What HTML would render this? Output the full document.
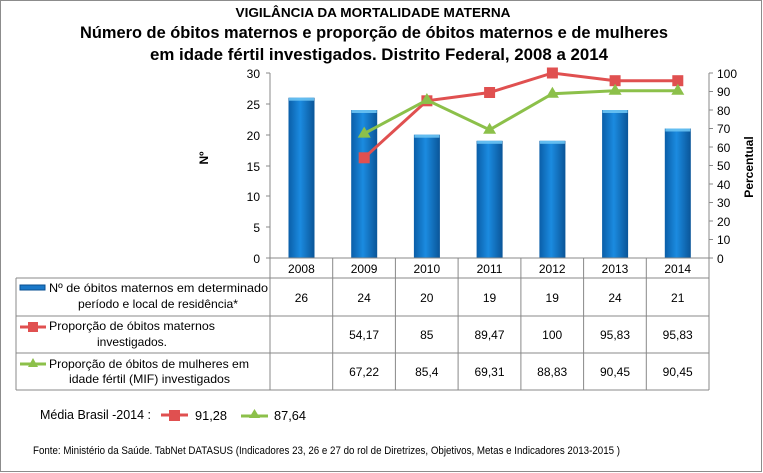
<!DOCTYPE html>
<html><head><meta charset="utf-8"><style>body{margin:0;background:#fff}svg{display:block}text{font-family:"Liberation Sans",sans-serif}</style></head><body>
<svg width="763" height="473" viewBox="0 0 763 473" xmlns="http://www.w3.org/2000/svg">
<defs>
<linearGradient id="bg" x1="0" x2="1" y1="0" y2="0">
<stop offset="0" stop-color="#0a5ea8"/><stop offset="0.45" stop-color="#1b8be0"/><stop offset="1" stop-color="#0a5598"/>
</linearGradient>
</defs>
<rect x="0.5" y="0.5" width="761" height="471" fill="#fff" stroke="#8c8c8c"/>
<text x="373" y="17" font-size="13" font-weight="bold" text-anchor="middle" textLength="275" lengthAdjust="spacingAndGlyphs">VIGILÂNCIA DA MORTALIDADE MATERNA</text>
<text x="374" y="38" font-size="17" font-weight="bold" text-anchor="middle" textLength="588" lengthAdjust="spacingAndGlyphs">Número de óbitos maternos e proporção de óbitos maternos e de mulheres</text>
<text x="379" y="60" font-size="17" font-weight="bold" text-anchor="middle" textLength="458" lengthAdjust="spacingAndGlyphs">em idade fértil investigados. Distrito Federal, 2008 a 2014</text>
<g stroke="#888" fill="none">
<line x1="270" y1="73" x2="270" y2="258"/>
<line x1="709" y1="73" x2="709" y2="258"/>
<line x1="266" y1="258" x2="270" y2="258"/>
<line x1="266" y1="73" x2="270" y2="73"/><line x1="266" y1="104" x2="270" y2="104"/><line x1="266" y1="135" x2="270" y2="135"/><line x1="266" y1="166" x2="270" y2="166"/><line x1="266" y1="196" x2="270" y2="196"/><line x1="266" y1="227" x2="270" y2="227"/>
<line x1="709" y1="73" x2="713" y2="73"/><line x1="709" y1="91.5" x2="713" y2="91.5"/><line x1="709" y1="110" x2="713" y2="110"/><line x1="709" y1="128.5" x2="713" y2="128.5"/><line x1="709" y1="147" x2="713" y2="147"/><line x1="709" y1="165.5" x2="713" y2="165.5"/><line x1="709" y1="184" x2="713" y2="184"/><line x1="709" y1="202.5" x2="713" y2="202.5"/><line x1="709" y1="221" x2="713" y2="221"/><line x1="709" y1="239.5" x2="713" y2="239.5"/><line x1="709" y1="258" x2="713" y2="258"/>
</g>
<g font-size="12" text-anchor="end">
<text x="260" y="78">30</text><text x="260" y="109">25</text><text x="260" y="140">20</text><text x="260" y="171">15</text><text x="260" y="201">10</text><text x="260" y="232">5</text><text x="260" y="263">0</text>
</g>
<g font-size="12">
<text x="717" y="78">100</text><text x="717" y="96">90</text><text x="717" y="115">80</text><text x="717" y="133">70</text><text x="717" y="152">60</text><text x="717" y="170">50</text><text x="717" y="189">40</text><text x="717" y="207">30</text><text x="717" y="226">20</text><text x="717" y="244">10</text><text x="717" y="263">0</text>
</g>
<text x="208" y="158" font-size="12" font-weight="bold" transform="rotate(-90 208 158)" text-anchor="middle">Nº</text>
<text x="753" y="167" font-size="12" font-weight="bold" transform="rotate(-90 753 167)" text-anchor="middle">Percentual</text>
<g>
<rect x="288.5" y="97.7" width="26" height="160.3" fill="url(#bg)"/>
<rect x="351.2" y="110" width="26" height="148" fill="url(#bg)"/>
<rect x="413.9" y="134.7" width="26" height="123.3" fill="url(#bg)"/>
<rect x="476.6" y="140.8" width="26" height="117.2" fill="url(#bg)"/>
<rect x="539.4" y="140.8" width="26" height="117.2" fill="url(#bg)"/>
<rect x="602.1" y="110" width="26" height="148" fill="url(#bg)"/>
<rect x="664.8" y="128.5" width="26" height="129.5" fill="url(#bg)"/>
</g>
<g fill="#6cc4f4" opacity="0.9">
<rect x="289" y="97.7" width="25" height="3"/><rect x="351.7" y="110" width="25" height="3"/><rect x="414.4" y="134.7" width="25" height="3"/><rect x="477.1" y="140.8" width="25" height="3"/><rect x="539.9" y="140.8" width="25" height="3"/><rect x="602.6" y="110" width="25" height="3"/><rect x="665.3" y="128.5" width="25" height="3"/>
</g>
<polyline points="364.2,157.8 426.9,100.8 489.6,92.5 552.4,73 615.1,80.7 677.8,80.7" fill="none" stroke="#e05050" stroke-width="3"/>
<g fill="#e05050">
<rect x="358.7" y="152.3" width="11" height="11"/><rect x="421.4" y="95.3" width="11" height="11"/><rect x="484.1" y="87" width="11" height="11"/><rect x="546.9" y="67.5" width="11" height="11"/><rect x="609.6" y="75.2" width="11" height="11"/><rect x="672.3" y="75.2" width="11" height="11"/>
</g>
<polyline points="364.2,133.6 426.9,100 489.6,129.8 552.4,93.7 615.1,90.7 677.8,90.7" fill="none" stroke="#8cc04a" stroke-width="3"/>
<g fill="#8cc04a">
<polygon points="364.2,126.6 370.7,137.6 357.7,137.6"/><polygon points="426.9,93 433.4,104 420.4,104"/><polygon points="489.6,122.8 496.1,133.8 483.1,133.8"/><polygon points="552.4,86.7 558.9,97.7 545.9,97.7"/><polygon points="615.1,83.7 621.6,94.7 608.6,94.7"/><polygon points="677.8,83.7 684.3,94.7 671.3,94.7"/>
</g>
<g stroke="#888" fill="none">
<line x1="270" y1="258" x2="709" y2="258"/>
<line x1="16" y1="278" x2="709" y2="278"/>
<line x1="16" y1="316" x2="709" y2="316"/>
<line x1="16" y1="353" x2="709" y2="353"/>
<line x1="16" y1="390" x2="709" y2="390"/>
<line x1="16" y1="278" x2="16" y2="390"/>
<line x1="270" y1="258" x2="270" y2="390"/>
<line x1="332.7" y1="258" x2="332.7" y2="390"/><line x1="395.4" y1="258" x2="395.4" y2="390"/><line x1="458.1" y1="258" x2="458.1" y2="390"/><line x1="520.9" y1="258" x2="520.9" y2="390"/><line x1="583.6" y1="258" x2="583.6" y2="390"/><line x1="646.3" y1="258" x2="646.3" y2="390"/>
<line x1="709" y1="258" x2="709" y2="390"/>
</g>
<g font-size="12" text-anchor="middle">
<text x="301.4" y="273">2008</text><text x="364.1" y="273">2009</text><text x="426.8" y="273">2010</text><text x="489.5" y="273">2011</text><text x="552.2" y="273">2012</text><text x="615" y="273">2013</text><text x="677.7" y="273">2014</text>
<text x="301.4" y="302">26</text><text x="364.1" y="302">24</text><text x="426.8" y="302">20</text><text x="489.5" y="302">19</text><text x="552.2" y="302">19</text><text x="615" y="302">24</text><text x="677.7" y="302">21</text>
<text x="364.1" y="339">54,17</text><text x="426.8" y="339">85</text><text x="489.5" y="339">89,47</text><text x="552.2" y="339">100</text><text x="615" y="339">95,83</text><text x="677.7" y="339">95,83</text>
<text x="364.1" y="376">67,22</text><text x="426.8" y="376">85,4</text><text x="489.5" y="376">69,31</text><text x="552.2" y="376">88,83</text><text x="615" y="376">90,45</text><text x="677.7" y="376">90,45</text>
</g>
<rect x="20" y="285" width="25" height="5" fill="#1a78c8" stroke="#0a4f90"/>
<g font-size="12">
<text x="49" y="292" textLength="219" lengthAdjust="spacingAndGlyphs">Nº  de óbitos maternos em determinado</text>
<text x="78" y="308" textLength="160" lengthAdjust="spacingAndGlyphs">período e local de residência*</text>
<line x1="20" y1="327" x2="46" y2="327" stroke="#e05050" stroke-width="3"/><rect x="28" y="322" width="10" height="10" fill="#e05050"/>
<text x="49" y="330" textLength="166" lengthAdjust="spacingAndGlyphs">Proporção de óbitos maternos</text>
<text x="97" y="346" textLength="70" lengthAdjust="spacingAndGlyphs">investigados.</text>
<line x1="20" y1="364" x2="46" y2="364" stroke="#8cc04a" stroke-width="3"/><polygon points="33,358 38,367 28,367" fill="#8cc04a"/>
<text x="49" y="368" textLength="200" lengthAdjust="spacingAndGlyphs">Proporção de óbitos de mulheres em</text>
<text x="69" y="383" textLength="161" lengthAdjust="spacingAndGlyphs">idade fértil (MIF) investigados</text>
</g>
<g font-size="13">
<text x="40" y="419" textLength="111" lengthAdjust="spacingAndGlyphs">Média Brasil -2014 :</text>
<line x1="161" y1="415" x2="188" y2="415" stroke="#e05050" stroke-width="3"/><rect x="169" y="410" width="11" height="11" fill="#e05050"/>
<text x="195" y="420" textLength="32" lengthAdjust="spacingAndGlyphs">91,28</text>
<line x1="241" y1="416" x2="268" y2="416" stroke="#8cc04a" stroke-width="3"/><polygon points="254.5,409 260,418 249,418" fill="#8cc04a"/>
<text x="274" y="420" textLength="32" lengthAdjust="spacingAndGlyphs">87,64</text>
</g>
<text x="33" y="454" font-size="11" textLength="587" lengthAdjust="spacingAndGlyphs">Fonte: Ministério da Saúde. TabNet DATASUS (Indicadores 23, 26 e 27  do rol de Diretrizes, Objetivos, Metas e Indicadores 2013-2015 )</text>
</svg>
</body></html>
